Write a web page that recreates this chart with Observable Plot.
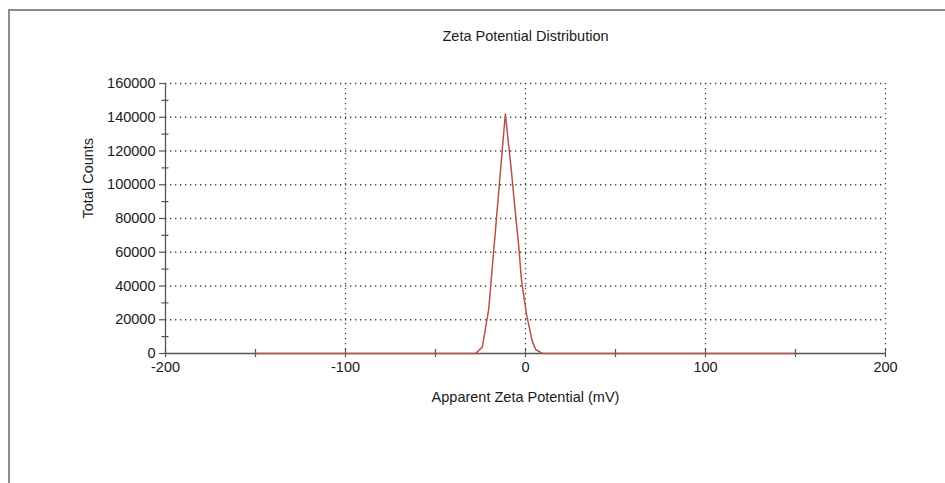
<!DOCTYPE html>
<html>
<head>
<meta charset="utf-8">
<script src="https://cdn.jsdelivr.net/npm/d3@7"></script>
<script src="https://cdn.jsdelivr.net/npm/@observablehq/plot@0.6"></script>
<style>
  html, body { margin: 0; padding: 0; background: #fff; }
  #wrap { position: relative; width: 945px; height: 483px; overflow: hidden; }
  #frame { position: absolute; left: 8px; top: 9px; right: -4px; bottom: -4px;
           border-top: 2px solid #8c8c8c; border-left: 2px solid #8c8c8c; }
  #chart { position: absolute; left: 0; top: 0; }
  svg { font-family: "Liberation Sans", Arial, sans-serif; }
</style>
</head>
<body>
<div id="wrap"><div id="frame"></div><div id="chart"></div></div>
<script>
// Zeta potential distribution (mV vs total counts)
const potential = [-150, -27.8, -24, -20.4, -11.2, -8, -5.6, -3.7, -2.2, 0.6, 3.7, 5.6, 9.3, 150];
const counts    = [0, 0, 3800, 26500, 142000, 110000, 83000, 63000, 43000, 23000, 7500, 2500, 0, 0];

const xMajor = [-200, -100, 0, 100, 200];
const xMinor = [-150, -50, 50, 150];
const yMajor = [0, 20000, 40000, 60000, 80000, 100000, 120000, 140000, 160000];
const yMinor = [10000, 30000, 50000, 70000, 90000, 110000, 130000, 150000];

const titleText = "Zeta Potential Distribution";
const xLabel = "Apparent Zeta Potential (mV)";
const yLabel = "Total Counts";

const series = potential.map((p, i) => ({p, c: counts[i]}));

const axisColor = "#555";
const gridColor = "#444";
const lineColor = "#b5524f";
const textColor = "#1a1a1a";

const chart = Plot.plot({
  width: 945,
  height: 483,
  marginLeft: 165,
  marginRight: 60,
  marginTop: 83,
  marginBottom: 130,
  style: {background: "transparent", fontFamily: "'Liberation Sans', Arial, sans-serif"},
  x: {domain: [-200, 200], label: null},
  y: {domain: [0, 160000], label: null},
  marks: [
    // dotted grid
    Plot.gridX(xMajor.filter(d => d > -200), {stroke: gridColor, strokeOpacity: 1, strokeWidth: 1.3, strokeDasharray: "1.3,3.7"}),
    Plot.gridY(yMajor.filter(d => d > 0), {stroke: gridColor, strokeOpacity: 1, strokeWidth: 1.3, strokeDasharray: "1.3,3.7"}),
    // solid axis lines
    Plot.ruleX([-200], {stroke: axisColor, strokeWidth: 1.3}),
    Plot.ruleY([0], {stroke: axisColor, strokeWidth: 1.3}),
    // x ticks crossing the axis
    Plot.axisX({ticks: xMajor.concat(xMinor), tickSize: 8, dy: -4, text: null, label: null, stroke: axisColor, strokeWidth: 1.2}),
    Plot.axisX({ticks: xMajor, tickSize: 0, tickPadding: 8, tickFormat: d => String(d), fontSize: 14.5, fill: textColor, label: null}),
    // y ticks: major to the left, minor crossing
    Plot.axisY({ticks: yMajor, tickSize: 6, text: null, label: null, stroke: axisColor, strokeWidth: 1.2}),
    Plot.axisY({ticks: yMinor, tickSize: 7, dx: 3.5, text: null, label: null, stroke: axisColor, strokeWidth: 1.2}),
    Plot.axisY({ticks: yMajor, tickSize: 0, tickPadding: 10, tickFormat: d => String(d), fontSize: 14.5, fill: textColor, label: null}),
    // distribution curve
    Plot.line(series, {x: "p", y: "c", stroke: lineColor, strokeWidth: 1.5}),
    // titles
    Plot.text([titleText], {frameAnchor: "top", dy: -53, fontSize: 14.5, fill: textColor}),
    Plot.text([xLabel], {frameAnchor: "bottom", dy: 48, fontSize: 14.5, fill: textColor}),
    Plot.text([yLabel], {frameAnchor: "left", dx: -77, rotate: -90, fontSize: 14.5, fill: textColor})
  ]
});

document.getElementById("chart").appendChild(chart);
</script>
</body>
</html>
